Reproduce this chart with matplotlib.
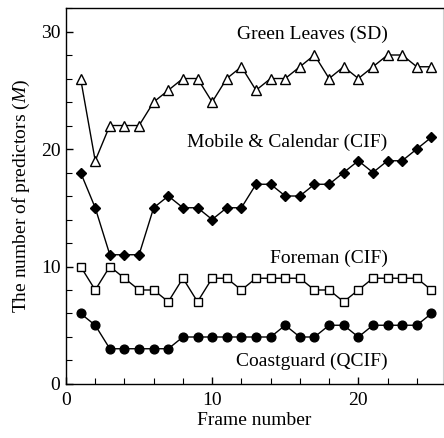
import matplotlib
matplotlib.use("Agg")
import matplotlib.pyplot as plt
from matplotlib.ticker import MultipleLocator

frames = list(range(1, 26))
green_leaves = [26, 19, 22, 22, 22, 24, 25, 26, 26, 24, 26, 27, 25, 26, 26, 27, 28, 26, 27, 26, 27, 28, 28, 27, 27]
mobile = [18, 15, 11, 11, 11, 15, 16, 15, 15, 14, 15, 15, 17, 17, 16, 16, 17, 17, 18, 19, 18, 19, 19, 20, 21]
foreman = [10, 8, 10, 9, 8, 8, 7, 9, 7, 9, 9, 8, 9, 9, 9, 9, 8, 8, 7, 8, 9, 9, 9, 9, 8]
coastguard = [6, 5, 3, 3, 3, 3, 3, 4, 4, 4, 4, 4, 4, 4, 5, 4, 4, 5, 5, 4, 5, 5, 5, 5, 6]
series_names = ["Green Leaves (SD)", "Mobile & Calendar (CIF)", "Foreman (CIF)", "Coastguard (QCIF)"]

plt.rcParams['font.family'] = ['Liberation Serif', 'DejaVu Serif']
plt.rcParams['mathtext.fontset'] = 'custom'
plt.rcParams['mathtext.it'] = 'Liberation Serif:italic'
plt.rcParams['mathtext.rm'] = 'Liberation Serif'

fig = plt.figure(figsize=(4.44, 4.38), dpi=100)
ax = fig.add_axes([0.1486, 0.1233, 0.8494, 0.8584])

lw = 1.0
ax.plot(frames, green_leaves, color='black', lw=lw, marker='^', markersize=6.8,
        markerfacecolor='white', markeredgecolor='black', markeredgewidth=1.0)
ax.plot(frames, mobile, color='black', lw=lw, marker='D', markersize=4.6,
        markerfacecolor='black', markeredgecolor='black')
ax.plot(frames, foreman, color='black', lw=lw, marker='s', markersize=6.3,
        markerfacecolor='white', markeredgecolor='black', markeredgewidth=1.0)
ax.plot(frames, coastguard, color='black', lw=lw, marker='o', markersize=6.3,
        markerfacecolor='black', markeredgecolor='black')

fs = 14
label_pos = [(22.0, 29.75), (22.0, 20.6), (22.0, 10.7), (22.0, 1.96)]
for name, (lx, ly) in zip(series_names, label_pos):
    ax.text(lx, ly, name, ha='right', va='center', fontsize=fs)

ax.set_xlim(0, 25.8)
ax.set_ylim(0, 32)
ax.xaxis.set_major_locator(MultipleLocator(10))
ax.xaxis.set_minor_locator(MultipleLocator(2))
ax.yaxis.set_major_locator(MultipleLocator(10))
ax.yaxis.set_minor_locator(MultipleLocator(2))
ax.tick_params(which='both', direction='in', labelsize=fs)
ax.tick_params(which='major', length=5, width=1)
ax.tick_params(which='minor', length=4, width=0.8)
ax.tick_params(axis='x', pad=6)
ax.tick_params(axis='y', pad=4)
ax.tick_params(top=False, right=False, which='both')

for s in ['left', 'bottom', 'top']:
    ax.spines[s].set_linewidth(1.0)
ax.spines['right'].set_color('#d0d0d0')
ax.spines['right'].set_linewidth(0.8)

ax.set_xlabel('Frame number', fontsize=fs, labelpad=2)
ax.set_ylabel('The number of predictors ($M$)', fontsize=fs, labelpad=6)

fig.savefig('out.png', dpi=100)
